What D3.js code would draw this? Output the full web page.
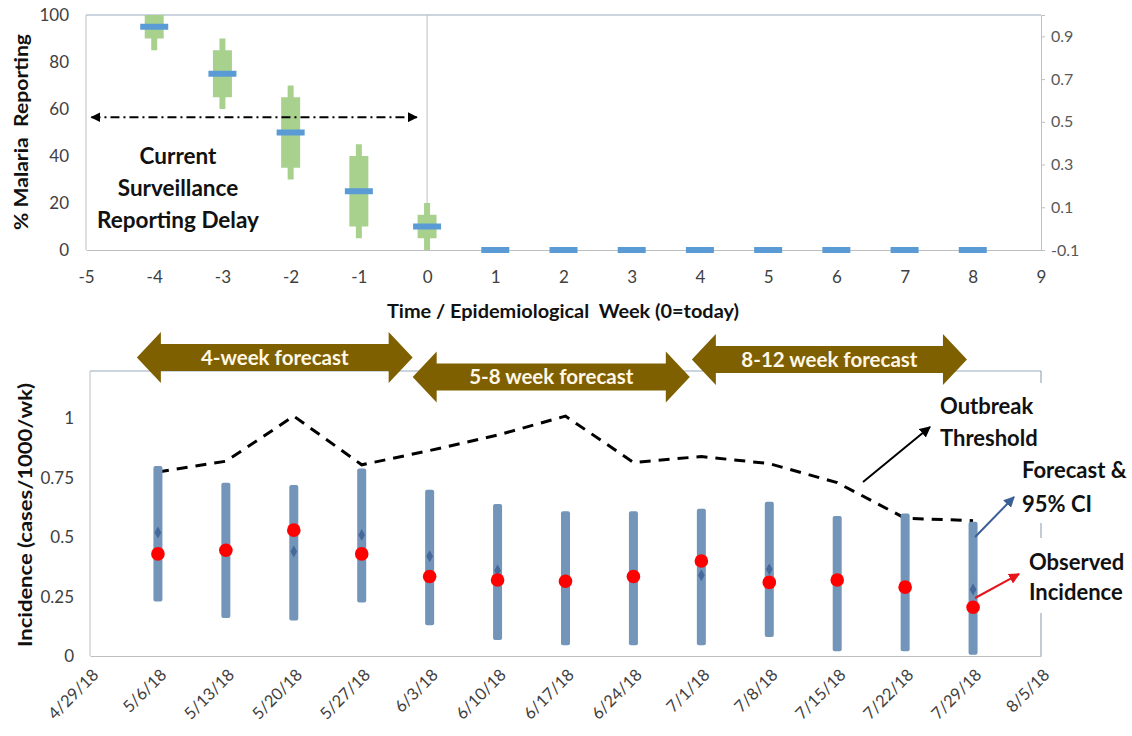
<!DOCTYPE html>
<html>
<head>
<meta charset="utf-8">
<script src="https://cdn.jsdelivr.net/npm/d3@7"></script>
<style>
  html, body { margin: 0; padding: 0; background: #fff; }
  svg { display: block; font-family: Lato, "Open Sans", sans-serif; }
</style>
</head>
<body>
<svg id="chart" width="1132" height="736"></svg>
<script>
// ---------------- DATA ----------------
// Top panel: reporting delay
const delayWeeks   = [-4, -3, -2, -1, 0, 1, 2, 3, 4, 5, 6, 7, 8];
const delayMedian  = [95, 75, 50, 25, 10, 0, 0, 0, 0, 0, 0, 0, 0];
const ciWeeks      = [-4, -3, -2, -1, 0];
const outerLow     = [85, 60, 30, 5, 0];
const outerHigh    = [100, 90, 70, 45, 20];
const innerLow     = [90, 65, 35, 10, 5];
const innerHigh    = [100, 85, 65, 40, 15];
const topXTicks    = [-5, -4, -3, -2, -1, 0, 1, 2, 3, 4, 5, 6, 7, 8, 9];
const topYTicks    = [0, 20, 40, 60, 80, 100];
const topY2Ticks   = [-0.1, 0.1, 0.3, 0.5, 0.7, 0.9];

// Bottom panel: incidence forecast
const weekLabels   = ["5/6/18","5/13/18","5/20/18","5/27/18","6/3/18","6/10/18","6/17/18",
                      "6/24/18","7/1/18","7/8/18","7/15/18","7/22/18","7/29/18"];
const ciLow        = [0.23, 0.16, 0.15, 0.225, 0.13, 0.067, 0.045, 0.045, 0.045, 0.08, 0.02, 0.02, 0.005];
const ciHigh       = [0.80, 0.73, 0.72, 0.79, 0.70, 0.64, 0.61, 0.61, 0.62, 0.65, 0.59, 0.60, 0.565];
const forecast     = [0.52, 0.45, 0.44, 0.51, 0.42, 0.36, 0.32, 0.33, 0.34, 0.365, 0.32, 0.29, 0.28];
const observed     = [0.43, 0.445, 0.53, 0.43, 0.335, 0.32, 0.315, 0.335, 0.40, 0.31, 0.32, 0.29, 0.205];
const threshold    = [0.775, 0.82, 1.01, 0.805, 0.865, 0.93, 1.01, 0.815, 0.84, 0.81, 0.73, 0.58, 0.57];
const bottomXTicks = ["4/29/18","5/6/18","5/13/18","5/20/18","5/27/18","6/3/18","6/10/18","6/17/18",
                      "6/24/18","7/1/18","7/8/18","7/15/18","7/22/18","7/29/18","8/5/18"];
const bottomYTicks = [0, 0.25, 0.5, 0.75, 1];
const bottomYLabels = ["0", "0.25", "0.5", "0.75", "1"];

// Forecast-horizon arrows (weeks after 4/29/18)
const horizonLabels = ["4-week forecast", "5-8 week forecast", "8-12 week forecast"];
const horizonFrom   = [0.69, 4.75, 8.86];
const horizonTo     = [4.75, 8.83, 12.91];

// ---------------- SETUP ----------------
const svg = d3.select("#chart");
svg.append("rect").attr("width", 1132).attr("height", 736).attr("fill", "#fff");

const parse = d3.utcParse("%m/%d/%y");
const defs = svg.append("defs");
function marker(id, color, w, h) {
  defs.append("marker").attr("id", id)
    .attr("viewBox", "0 0 10 10").attr("refX", 9).attr("refY", 5)
    .attr("markerWidth", w).attr("markerHeight", h).attr("orient", "auto-start-reverse")
    .attr("markerUnits", "userSpaceOnUse")
    .append("path").attr("d", "M0,0 L10,5 L0,10 z").attr("fill", color);
}
marker("arrBlack", "#000", 11, 11);
marker("arrBlue", "#3a5f95", 11, 11);
marker("arrRed", "#e8141c", 11, 11);
marker("arrDash", "#000", 10, 10);

const axisGray = "#bfbfbf";
const borderBlue = "#9aaabb";
const tickColor = "#404040";
const plain = d => String(d);   // hyphen-minus like the original

// ---------------- TOP PANEL ----------------
const tL = 86, tR = 1041, tT = 15, tB = 250;
const xTop = d3.scaleLinear().domain([-5, 9]).range([tL, tR]);
const yTop = d3.scaleLinear().domain([0, 100]).range([tB, tT]);
const yTop2 = d3.scaleLinear().domain([-0.1, 1.0]).range([tB, tT]);

const gTop = svg.append("g");
gTop.append("line").attr("x1", tL).attr("x2", tR).attr("y1", tT).attr("y2", tT).attr("stroke", borderBlue).attr("stroke-width", 1.2);
gTop.append("line").attr("x1", tL).attr("x2", tL).attr("y1", tT).attr("y2", tB).attr("stroke", axisGray);
gTop.append("line").attr("x1", xTop(0)).attr("x2", xTop(0)).attr("y1", tT).attr("y2", tB).attr("stroke", axisGray);

const rAxis = gTop.append("g").attr("transform", `translate(${tR},0)`)
  .call(d3.axisRight(yTop2).tickValues(topY2Ticks).tickSize(4).tickPadding(6).tickFormat(d => String(+d.toFixed(1))));
rAxis.select(".domain").attr("stroke", axisGray);
rAxis.selectAll(".tick line").attr("stroke", axisGray);
rAxis.selectAll("text").attr("fill", "#595959").style("font-size", "16px").style("font-family", "Lato");

const lAxis = gTop.append("g").attr("transform", `translate(${tL},0)`)
  .call(d3.axisLeft(yTop).tickValues(topYTicks).tickSize(0).tickPadding(17).tickFormat(plain));
lAxis.select(".domain").remove();
lAxis.selectAll("text").attr("fill", tickColor).style("font-size", "17px").style("font-family", "Lato");

const bAxis = gTop.append("g").attr("transform", `translate(0,${tB})`)
  .call(d3.axisBottom(xTop).tickValues(topXTicks).tickSize(0).tickPadding(21).tickFormat(plain));
bAxis.select(".domain").attr("stroke", axisGray);
bAxis.selectAll("text").attr("fill", tickColor).style("font-size", "17px").style("font-family", "Lato");

const green = "#a9d18e";
gTop.selectAll("rect.outer").data(ciWeeks).join("rect")
  .attr("x", d => xTop(d) - 3).attr("width", 6)
  .attr("y", (d, i) => yTop(outerHigh[i])).attr("height", (d, i) => yTop(outerLow[i]) - yTop(outerHigh[i]))
  .attr("fill", green);
gTop.selectAll("rect.inner").data(ciWeeks).join("rect")
  .attr("x", d => xTop(d) - 9.5).attr("width", 19)
  .attr("y", (d, i) => yTop(innerHigh[i])).attr("height", (d, i) => yTop(innerLow[i]) - yTop(innerHigh[i]))
  .attr("fill", green);
gTop.selectAll("rect.med").data(delayWeeks).join("rect")
  .attr("x", d => xTop(d) - 14).attr("width", 28)
  .attr("y", (d, i) => yTop(delayMedian[i]) - 3).attr("height", 6)
  .attr("fill", "#5b9bd5");

gTop.append("line")
  .attr("x1", xTop(-4.92)).attr("x2", xTop(-0.15))
  .attr("y1", yTop(56.5)).attr("y2", yTop(56.5))
  .attr("stroke", "#000").attr("stroke-width", 2)
  .attr("stroke-dasharray", "9,4,2,4")
  .attr("marker-start", "url(#arrDash)").attr("marker-end", "url(#arrDash)");

gTop.append("text").attr("text-anchor", "middle")
  .style("font-size", "22.5px").style("font-weight", "bold").attr("fill", "#111")
  .selectAll("tspan").data(["Current", "Surveillance", "Reporting Delay"]).join("tspan")
  .attr("x", 178).attr("y", (d, i) => 164 + i * 32).text(d => d);

svg.append("text")
  .attr("transform", `translate(28,132) rotate(-90)`).attr("text-anchor", "middle")
  .style("font-size", "19px").style("font-weight", "bold").attr("fill", "#111")
  .attr("xml:space", "preserve")
  .attr("textLength", 196).attr("lengthAdjust", "spacingAndGlyphs")
  .text("% Malaria  Reporting");
svg.append("text").attr("x", 563).attr("y", 318).attr("text-anchor", "middle")
  .style("font-size", "19px").style("font-weight", "bold").attr("fill", "#111")
  .attr("xml:space", "preserve")
  .attr("textLength", 352).attr("lengthAdjust", "spacingAndGlyphs")
  .text("Time / Epidemiological  Week (0=today)");

// ---------------- BOTTOM PANEL ----------------
const bL = 90, bR = 1041, bT = 371, bB = 656;
const x0 = parse(bottomXTicks[0]);
const xBot = d3.scaleUtc().domain([x0, parse(bottomXTicks[bottomXTicks.length - 1])]).range([bL, bR]);
const yBot = d3.scaleLinear().domain([0, 1.2]).range([bB, bT]);
const weekDates = weekLabels.map(parse);

const gBot = svg.append("g");
gBot.append("line").attr("x1", bL).attr("x2", bR).attr("y1", bT).attr("y2", bT).attr("stroke", borderBlue).attr("stroke-width", 1.2);
gBot.append("line").attr("x1", bR).attr("x2", bR).attr("y1", bT).attr("y2", bB).attr("stroke", borderBlue).attr("stroke-width", 1.2);
gBot.append("line").attr("x1", bL).attr("x2", bL).attr("y1", bT).attr("y2", bB).attr("stroke", axisGray);

const ylAxis = gBot.append("g").attr("transform", `translate(${bL},0)`)
  .call(d3.axisLeft(yBot).tickValues(bottomYTicks).tickSize(0).tickPadding(16)
    .tickFormat((d, i) => bottomYLabels[i]));
ylAxis.select(".domain").remove();
ylAxis.selectAll("text").attr("fill", tickColor).style("font-size", "17px").style("font-family", "Lato");

const xbAxis = gBot.append("g").attr("transform", `translate(0,${bB})`)
  .call(d3.axisBottom(xBot).tickValues(bottomXTicks.map(parse)).tickSize(0)
    .tickFormat((d, i) => bottomXTicks[i]));
xbAxis.select(".domain").attr("stroke", axisGray);
xbAxis.selectAll("text").attr("fill", tickColor).style("font-size", "16.5px").style("font-family", "Lato")
  .attr("text-anchor", "end").attr("dy", 0).attr("y", 0)
  .attr("transform", "translate(9,20) rotate(-45)");

gBot.append("rect").attr("x", 1018).attr("y", 383).attr("width", 40).attr("height", 140).attr("fill", "#fff");
gBot.append("rect").attr("x", 1018).attr("y", 538).attr("width", 40).attr("height", 75).attr("fill", "#fff");

gBot.append("path").datum(threshold)
  .attr("d", d3.line().x((d, i) => xBot(weekDates[i])).y(d => yBot(d)))
  .attr("fill", "none").attr("stroke", "#000").attr("stroke-width", 3).attr("stroke-dasharray", "11,8");

gBot.selectAll("rect.ci").data(weekDates).join("rect")
  .attr("x", d => xBot(d) - 4.5).attr("width", 9)
  .attr("y", (d, i) => yBot(ciHigh[i])).attr("height", (d, i) => yBot(ciLow[i]) - yBot(ciHigh[i]))
  .attr("rx", 2).attr("fill", "#7295b9");
gBot.selectAll("path.fc").data(weekDates).join("path")
  .attr("transform", (d, i) => `translate(${xBot(d)},${yBot(forecast[i])})`)
  .attr("d", d3.symbol(d3.symbolDiamond, 40)).attr("fill", "#45699a");
gBot.selectAll("circle.obs").data(weekDates).join("circle")
  .attr("cx", d => xBot(d)).attr("cy", (d, i) => yBot(observed[i])).attr("r", 6.8)
  .attr("fill", "#ff0000");

svg.append("text")
  .attr("transform", `translate(32,515) rotate(-90)`).attr("text-anchor", "middle")
  .style("font-size", "19px").style("font-weight", "bold").attr("fill", "#111")
  .attr("textLength", 264).attr("lengthAdjust", "spacingAndGlyphs")
  .text("Incidence (cases/1000/wk)");

const brown = "#7f6000";
const wk = 7 * 24 * 3600 * 1000;
const arrowY = [357.5, 377, 359.5];
horizonLabels.forEach((lab, i) => {
  const xa = xBot(new Date(+x0 + horizonFrom[i] * wk));
  const xb = xBot(new Date(+x0 + horizonTo[i] * wk));
  const yc = arrowY[i], hh = 25.5, sh = 13.5, hl = 24;
  const pts = [[xa, yc], [xa + hl, yc - hh], [xa + hl, yc - sh], [xb - hl, yc - sh], [xb - hl, yc - hh],
               [xb, yc], [xb - hl, yc + hh], [xb - hl, yc + sh], [xa + hl, yc + sh], [xa + hl, yc + hh]];
  svg.append("path").attr("d", "M" + pts.map(p => p.join(",")).join("L") + "Z").attr("fill", brown);
  svg.append("text").attr("x", (xa + xb) / 2).attr("y", yc + 7).attr("text-anchor", "middle")
    .style("font-size", "20.5px").style("font-weight", "bold").attr("fill", "#fff8e6").text(lab);
});

function ann(lines, x, y0, dy) {
  svg.append("text").style("font-size", "22px").style("font-weight", "bold").attr("fill", "#111")
    .selectAll("tspan").data(lines).join("tspan").attr("x", x).attr("y", (d, i) => y0 + i * dy).text(d => d);
}
ann(["Outbreak", "Threshold"], 940, 414, 32);
ann(["Forecast &", "95% CI"], 1022, 478, 34);
ann(["Observed", "Incidence"], 1029, 570, 30);

svg.append("line").attr("x1", 863).attr("y1", 482).attr("x2", 930).attr("y2", 427)
  .attr("stroke", "#000").attr("stroke-width", 2).attr("marker-end", "url(#arrBlack)");
svg.append("line").attr("x1", xBot(weekDates[12]) + 2).attr("y1", 537).attr("x2", 1014).attr("y2", 497)
  .attr("stroke", "#3a5f95").attr("stroke-width", 2).attr("marker-end", "url(#arrBlue)");
svg.append("line").attr("x1", xBot(weekDates[12]) + 2).attr("y1", 598).attr("x2", 1019).attr("y2", 574)
  .attr("stroke", "#e8141c").attr("stroke-width", 2).attr("marker-end", "url(#arrRed)");
</script>
</body>
</html>
